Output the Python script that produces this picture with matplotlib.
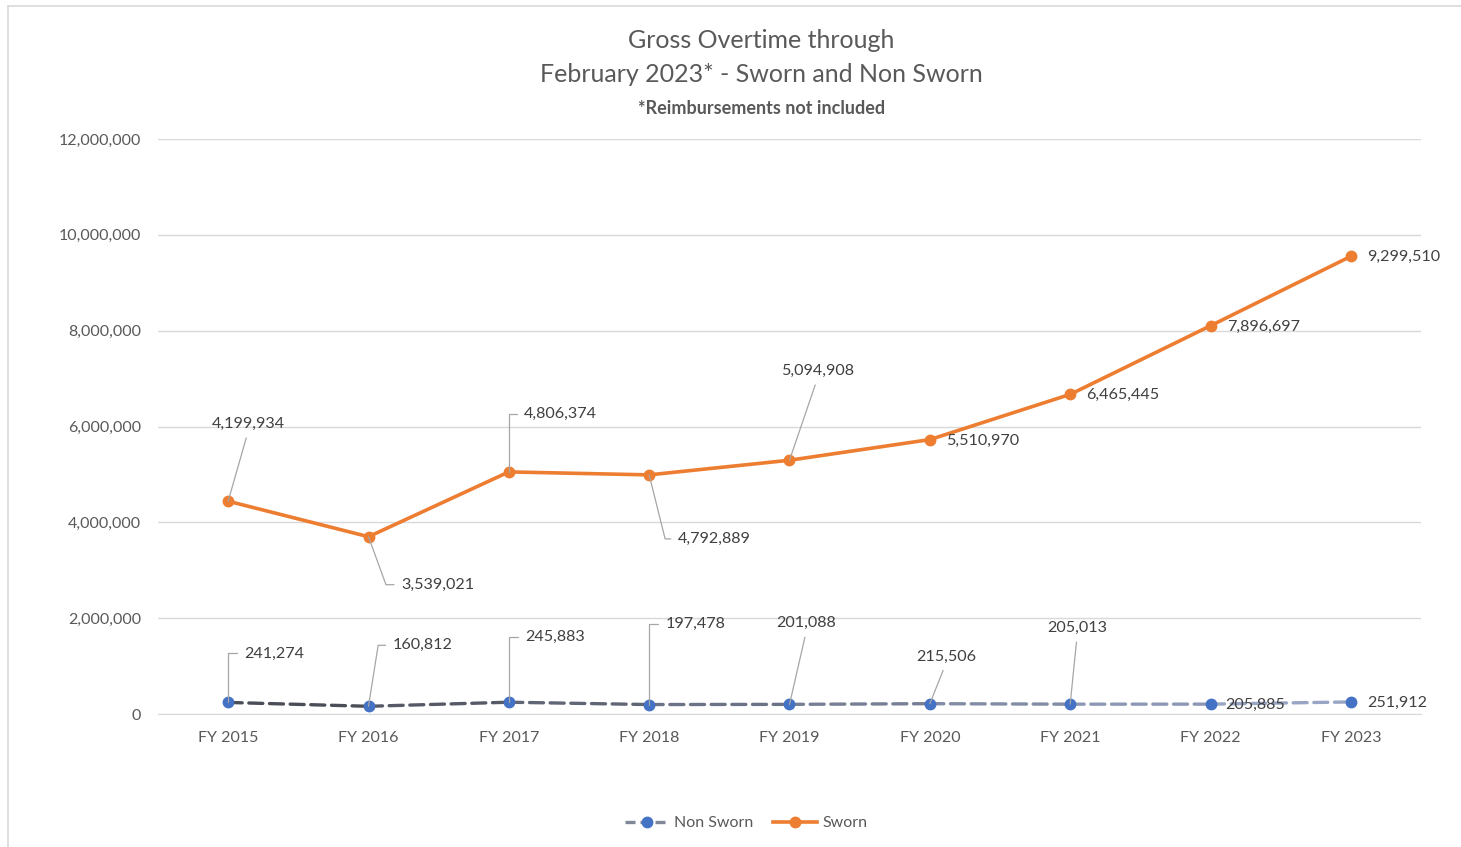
import numpy as np
import matplotlib
matplotlib.use("Agg")
import matplotlib.pyplot as plt
from matplotlib.lines import Line2D
from matplotlib.ticker import FuncFormatter

plt.rcParams['font.family'] = ['Lato', 'DejaVu Sans']

# data
years = ['FY 2015', 'FY 2016', 'FY 2017', 'FY 2018', 'FY 2019',
         'FY 2020', 'FY 2021', 'FY 2022', 'FY 2023']
non_sworn = [241274, 160812, 245883, 197478, 201088, 215506, 205013, 205885, 251912]
sworn = [4199934, 3539021, 4806374, 4792889, 5094908, 5510970, 6465445, 7896697, 9299510]

# label layout: (dx px, dy px, leader style, leader angle at point)
sworn_lbl = [(20, 77, 'bottom', 0), (69, -48, 'side', -70), (52, 58, 'side', 90),
             (65, -64, 'side', -76), (28, 89, 'bottom', 0), (53, -1, None, 0),
             (53, -1, None, 0), (53, -1, None, 0), (53, -1, None, 0)]
non_lbl = [(46, 49, 'side', 90), (54, 61, 'side', 81), (46, 65, 'side', 90),
           (46, 81, 'side', 90), (17, 81, 'bottom', 0), (16, 47, 'bottom', 0),
           (7, 76, 'bottom', 0), (45, -1, None, 0), (46, -1, None, 0)]

ORANGE = '#ED7D31'
BLUE = '#4472C4'
TXT = '#595959'
LBL = '#404040'
GRID = '#D9D9D9'

x = np.arange(len(years))
ns = np.array(non_sworn)
total = ns + np.array(sworn)  # stacked line chart

fig = plt.figure(figsize=(14.61, 8.47), dpi=100)
ax = fig.add_axes([158 / 1461, 1 - 714 / 847, 1263 / 1461, 575 / 847])

# chart frame (top and left edges visible)
fig.add_artist(Line2D([8 / 1461, 8 / 1461], [0, 1 - 6 / 847], color=GRID, lw=1.2))
fig.add_artist(Line2D([8 / 1461, 1], [1 - 6 / 847, 1 - 6 / 847], color=GRID, lw=1.2))

# non sworn: dashed line fading from dark grey to light blue-grey
c0 = np.array([0.27, 0.28, 0.31])
c1 = np.array([0.62, 0.67, 0.80])
for i in range(len(x) - 1):
    f = (i + 0.5) / (len(x) - 1)
    ax.plot(x[i:i + 2], ns[i:i + 2], color=c0 + (c1 - c0) * f, lw=2.4,
            dashes=(4.2, 2.0), solid_capstyle='round', dash_capstyle='round', zorder=3)
ax.plot(x, ns, ls='none', marker='o', ms=7.5, color=BLUE, zorder=4)

# sworn
ax.plot(x, total, color=ORANGE, lw=2.6, marker='o', ms=7.5, zorder=4)


def put_labels(yvals, vals, layout):
    for xi, yi, v, (dx, dy, style, ang) in zip(x, yvals, vals, layout):
        txt = f'{v:,}'
        kw = dict(textcoords='offset pixels', ha='center', va='center',
                  fontsize=11.6, color=LBL, zorder=6)
        if style == 'bottom':
            kw['arrowprops'] = dict(arrowstyle='-', color='#A6A6A6', lw=0.9,
                                    relpos=(0.5, 0), shrinkA=3, shrinkB=0)
        elif style == 'side':
            kw['arrowprops'] = dict(arrowstyle='-', color='#A6A6A6', lw=0.9,
                                    relpos=(0, 0.5), shrinkA=3, shrinkB=0,
                                    connectionstyle=f'angle,angleA=0,angleB={ang},rad=0')
        ax.annotate(txt, xy=(xi, yi), xytext=(dx, dy), **kw)


put_labels(total, sworn, sworn_lbl)
put_labels(ns, non_sworn, non_lbl)

ax.set_xlim(-0.5, len(x) - 0.5)
ax.set_ylim(0, 12000000)
ax.set_yticks(np.arange(0, 12000001, 2000000))
ax.yaxis.set_major_formatter(FuncFormatter(lambda v, p: f'{int(v):,}'))
ax.set_xticks(x)
ax.set_xticklabels(years)
ax.tick_params(axis='both', length=0, labelsize=11.5, labelcolor=TXT)
ax.tick_params(axis='x', pad=12)
ax.tick_params(axis='y', pad=12)
ax.grid(axis='y', color=GRID, lw=1.0)
ax.set_axisbelow(True)
for s in ['top', 'right', 'left']:
    ax.spines[s].set_visible(False)
ax.spines['bottom'].set_color(GRID)

fig.text(0.521, 1 - 40 / 847, 'Gross Overtime through', ha='center', va='center',
         fontsize=18, color=TXT)
fig.text(0.521, 1 - 74 / 847, 'February 2023* - Sworn and Non Sworn', ha='center',
         va='center', fontsize=18, color=TXT)
fig.text(0.521, 1 - 109 / 847, '*Reimbursements not included', ha='center',
         va='center', fontsize=13, fontweight='bold', color=TXT)

handles = [Line2D([], [], color='#7f8799', lw=2.4, dashes=(3.0, 1.5), marker='o',
                  ms=7.5, mfc=BLUE, mec=BLUE),
           Line2D([], [], color=ORANGE, lw=2.6, marker='o', ms=7.5)]
fig.legend(handles, ['Non Sworn', 'Sworn'], loc='center', ncol=2,
           bbox_to_anchor=(746 / 1461, 1 - 823 / 847), frameon=False,
           fontsize=11.5, labelcolor=TXT, handlelength=2.8, handletextpad=0.3,
           columnspacing=1.2)

fig.savefig('out.png', dpi=100)
